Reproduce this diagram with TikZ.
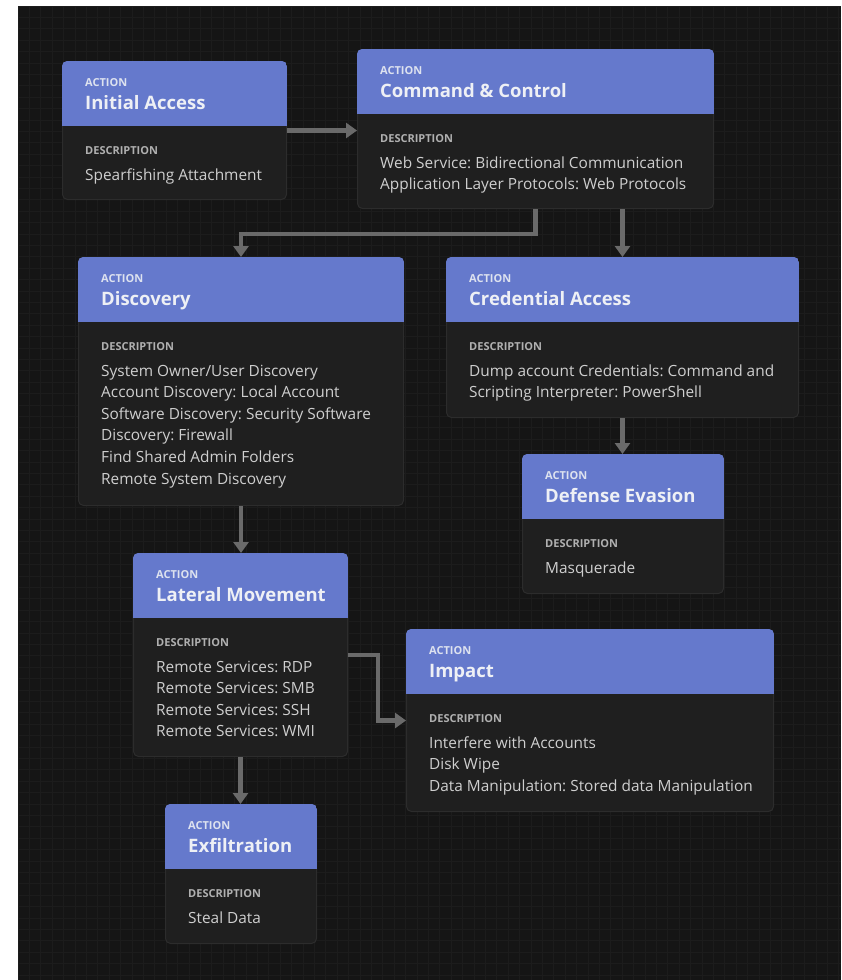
\documentclass[tikz,border=0pt]{standalone}
\usepackage{fontspec}
\setmainfont{Open Sans}
\usetikzlibrary{arrows.meta,calc}
\frenchspacing
\definecolor{bgc}{HTML}{151515}
\definecolor{gridc}{HTML}{1c1c1c}
\definecolor{hdrc}{HTML}{6579CC}
\definecolor{bodyc}{HTML}{1F1F1F}
\definecolor{edgec}{HTML}{2C2C2C}
\definecolor{connc}{HTML}{6A6A6A}
\definecolor{acttxt}{HTML}{DDE2EF}
\definecolor{titletxt}{HTML}{EEF0F5}
\definecolor{desctxt}{HTML}{B0B0B0}
\definecolor{linetxt}{HTML}{CFCFCF}
\tikzset{
  abox/.style={draw=edgec, line width=1pt, fill=bodyc, rounded corners=5pt, inner sep=0pt},
  lblA/.style={inner sep=0pt, text=acttxt, font=\fontsize{11}{12}\selectfont\bfseries},
  lblT/.style={inner sep=0pt, text=titletxt, font=\fontsize{18.5}{20}\selectfont\bfseries},
  lblD/.style={inner sep=0pt, text=desctxt, font=\fontsize{11}{12}\selectfont\bfseries},
  lblB/.style={inner sep=0pt, text=linetxt, font=\fontsize{15.4}{18}\selectfont},
  conn/.style={draw=connc, line width=4.5pt, -{Triangle[width=15pt,length=11pt]}},
  gline/.style={draw=gridc, line width=0.7pt}
}
\newcommand\actbox[7]{%
  \node[abox, minimum width=#4pt, minimum height=#5pt, anchor=north west] (#1) at (#2,#3) {};
  \begin{scope}
    \clip[rounded corners=5pt] (#1.north west) rectangle (#1.south east);
    \fill[hdrc] (#1.north west) rectangle ([yshift=-65pt]#1.north east);
  \end{scope}
  \node[lblA, anchor=base west] (#1-a) at ([xshift=23pt,yshift=-25pt]#1.north west) {ACTION};
  \node[lblT, anchor=base west] (#1-t) at ([xshift=23pt,yshift=-48pt]#1.north west) {#6};
  \node[lblD, anchor=base west] (#1-d) at ([xshift=23pt,yshift=-93pt]#1.north west) {DESCRIPTION};
  \foreach \ln [count=\i] in {#7} {
    \node[lblB, anchor=base west] (#1-l\i) at ([xshift=23pt,yshift={-119pt-(\i-1)*21.6pt}]#1.north west) {\ln};
  }
}
\begin{document}
\begin{tikzpicture}[x=1pt,y=-1pt]
\useasboundingbox (0,0) rectangle (841,980);
\fill[white] (0,0) rectangle (841,980);
\fill[bgc] (18,6) rectangle (841,980);
\foreach \i in {0,...,72} \draw[gline] (18+\i*11.4,6) -- (18+\i*11.4,980);
\foreach \j in {0,...,85} \draw[gline] (18,6+\j*11.4) -- (841,6+\j*11.4);

\actbox{ia}{62}{61}{224}{138}{Initial Access}{Spearfishing Attachment}
\actbox{cc}{357}{49}{356}{159}{Command \& Control}{Web Service: Bidirectional Communication,Application Layer Protocols: Web Protocols}
\actbox{disc}{78}{257}{325}{248}{Discovery}{System Owner/User Discovery,Account Discovery: Local Account,Software Discovery: Security Software,Discovery: Firewall,Find Shared Admin Folders,Remote System Discovery}
\actbox{cred}{446}{257}{352}{160}{Credential Access}{Dump account Credentials: Command and,Scripting Interpreter: PowerShell}
\actbox{def}{522}{454}{201}{139}{Defense Evasion}{Masquerade}
\actbox{lm}{133}{553}{214}{203}{Lateral Movement}{Remote Services: RDP,Remote Services: SMB,Remote Services: SSH,Remote Services: WMI}
\actbox{imp}{406}{629}{367}{182}{Impact}{Interfere with Accounts,Disk Wipe,Data Manipulation: Stored data Manipulation}
\actbox{ex}{165}{804}{151}{139}{Exfiltration}{Steal Data}

\coordinate (ccbend) at (0,234);
\draw[conn] (ia.east) -- (ia.east -| cc.west);
\draw[conn] (cc.south) -- (cc.south |- ccbend) -| (disc.north);
\draw[conn] (cred.north |- cc.south) -- (cred.north);
\draw[conn] (disc.south) -- (disc.south |- lm.north);
\draw[conn] (cred.south) -- (cred.south |- def.north);
\draw[conn] (lm.east) -- ++(30,0) |- (imp.west);
\draw[conn] (lm.south) -- (lm.south |- ex.north);
\end{tikzpicture}
\end{document}
